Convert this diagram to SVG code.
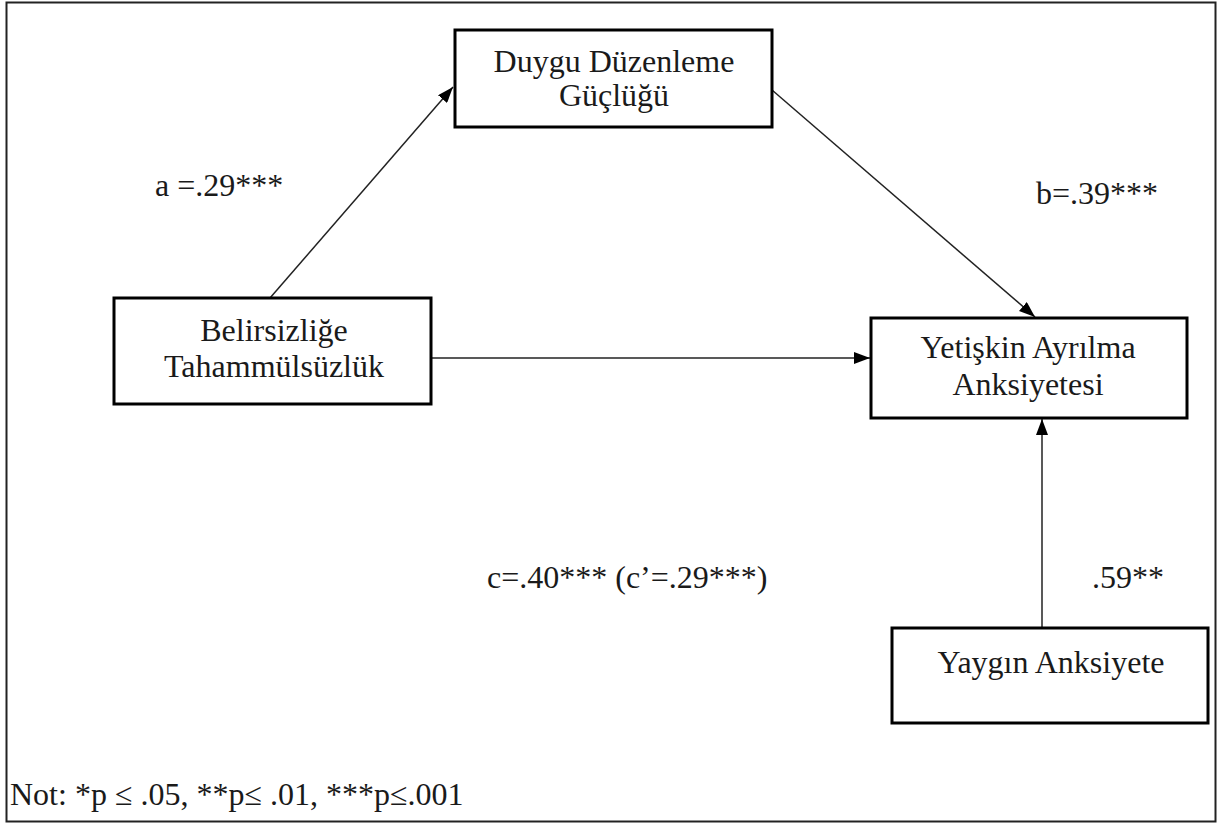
<svg xmlns="http://www.w3.org/2000/svg" width="1220" height="826" viewBox="0 0 1220 826">
<style>
.box{fill:#fff;stroke:#000;stroke-width:3}
.t{font-family:"Liberation Serif","Times New Roman",serif;font-size:32px;fill:#1a1a1a}
.c{text-anchor:middle}
.e{stroke:#222;stroke-width:1.5;fill:none;marker-end:url(#ah)}
</style>
<defs>
<marker id="ah" markerWidth="16" markerHeight="12" refX="16" refY="6" orient="auto" markerUnits="userSpaceOnUse">
<path d="M0,0 L16,6 L0,12 Z" fill="#000"/>
</marker>
</defs>
<rect x="0" y="0" width="1220" height="826" fill="#fff"/>
<rect x="6.5" y="2.5" width="1209" height="819" fill="none" stroke="#222" stroke-width="2"/>
<g id="connectors">
<line class="e" x1="270" y1="298" x2="453" y2="87"/>
<line class="e" x1="772" y1="90" x2="1035" y2="317"/>
<line class="e" x1="432" y1="358" x2="870" y2="358"/>
<line class="e" x1="1042" y1="628" x2="1042" y2="419"/>
</g>
<g id="duygu">
<rect class="box" x="455" y="30" width="317" height="97"/>
<text class="t c" x="614" y="72">Duygu Düzenleme</text>
<text class="t c" x="614" y="106">Güçlüğü</text>
</g>
<g id="belirsizlige">
<rect class="box" x="114" y="298" width="317" height="106"/>
<text class="t c" x="274" y="341">Belirsizliğe</text>
<text class="t c" x="274" y="377">Tahammülsüzlük</text>
</g>
<g id="yetiskin">
<rect class="box" x="871" y="318" width="316" height="100"/>
<text class="t c" x="1028" y="358">Yetişkin Ayrılma</text>
<text class="t c" x="1028" y="395">Anksiyetesi</text>
</g>
<g id="yaygin">
<rect class="box" x="892" y="628" width="316" height="95"/>
<text class="t c" x="1051" y="673">Yaygın Anksiyete</text>
</g>
<g id="labels">
<text class="t" x="155" y="196">a =.29***</text>
<text class="t" x="1036" y="204">b=.39***</text>
<text class="t" x="487" y="588">c=.40*** (c’=.29***)</text>
<text class="t" x="1092" y="588">.59**</text>
<text class="t" x="10" y="805">Not: *p ≤ .05, **p≤ .01, ***p≤.001</text>
</g>
</svg>
